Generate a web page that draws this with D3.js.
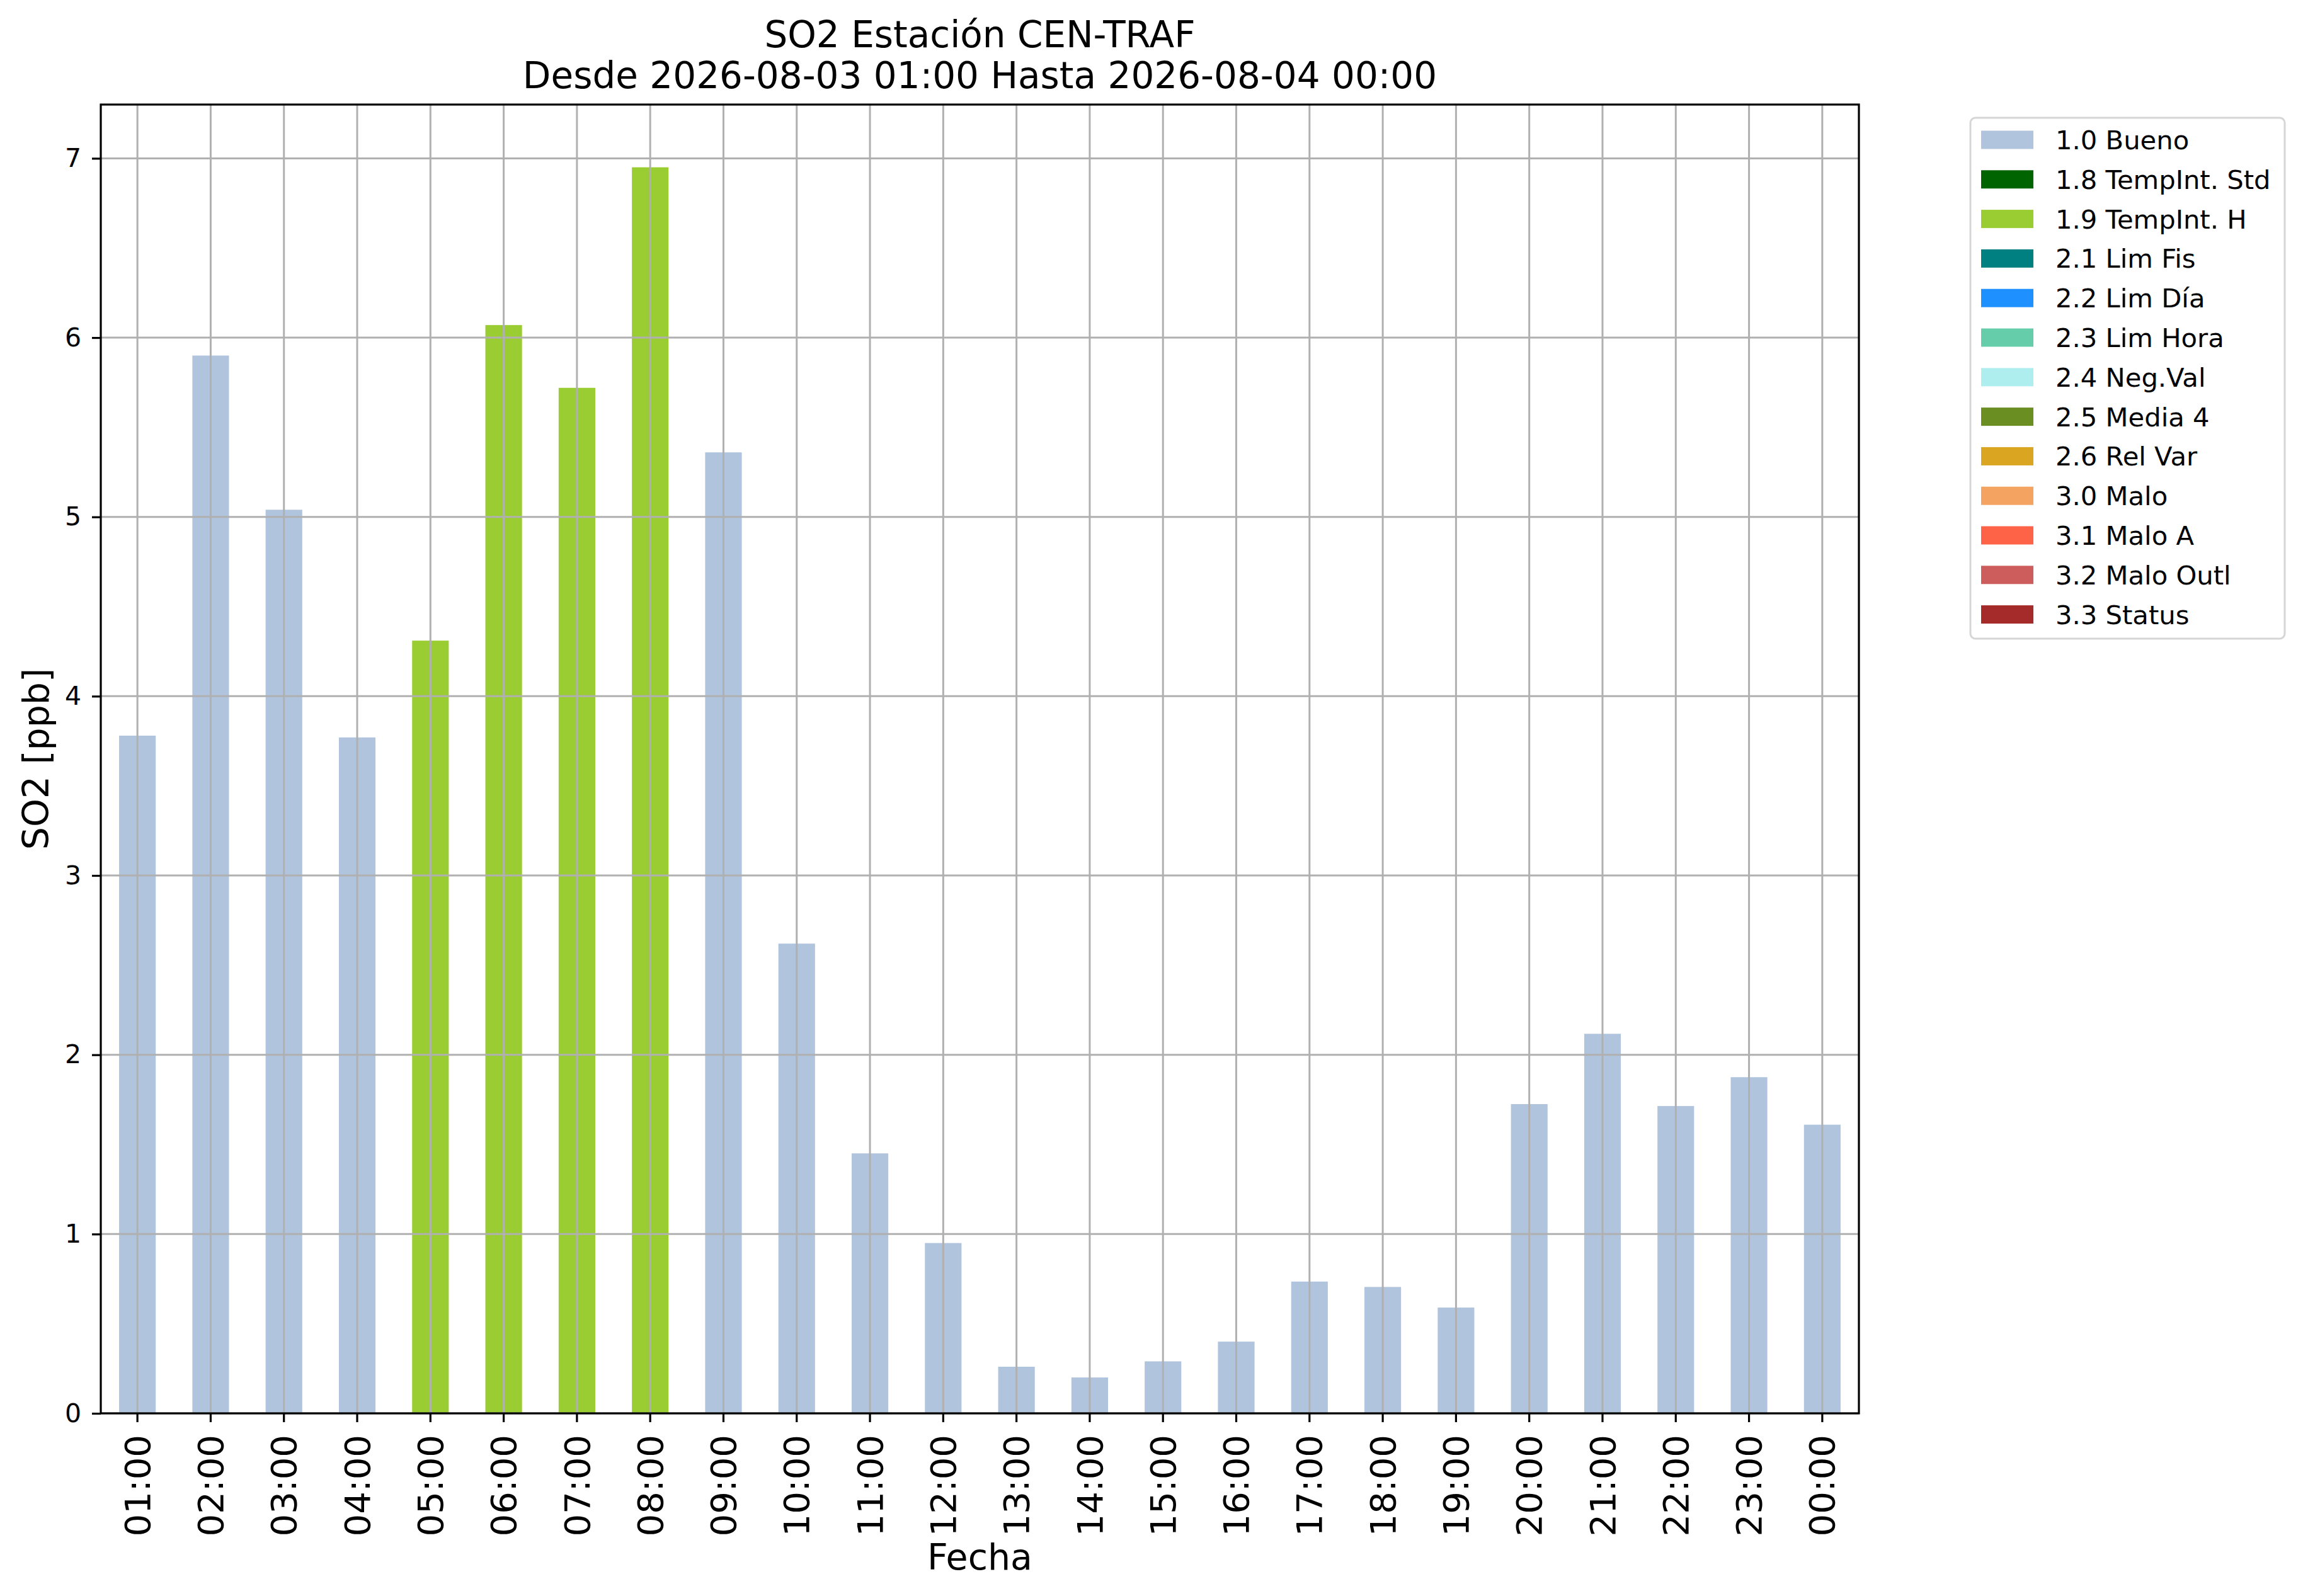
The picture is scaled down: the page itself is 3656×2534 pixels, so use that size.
<!DOCTYPE html>
<html>
<head>
<meta charset="utf-8">
<script src="https://cdn.jsdelivr.net/npm/d3@7"></script>
<style>
  body { margin: 0; background: #fff; }
  text { font-family: "DejaVu Sans", sans-serif; fill: #000; }
</style>
</head>
<body>
<div id="chart"></div>
<script>
// hours and SO2 values
var hours = ['01:00','02:00','03:00','04:00','05:00','06:00','07:00','08:00','09:00','10:00','11:00','12:00',
             '13:00','14:00','15:00','16:00','17:00','18:00','19:00','20:00','21:00','22:00','23:00','00:00'];
var so2 = [3.78, 5.90, 5.04, 3.77, 4.31, 6.07, 5.72, 6.95, 5.36, 2.62, 1.45, 0.95,
           0.26, 0.20, 0.29, 0.40, 0.735, 0.705, 0.59, 1.725, 2.117, 1.714, 1.875, 1.61];
var flags = ['1.0','1.0','1.0','1.0','1.9','1.9','1.9','1.9','1.0','1.0','1.0','1.0',
             '1.0','1.0','1.0','1.0','1.0','1.0','1.0','1.0','1.0','1.0','1.0','1.0'];

// quality flags (legend)
var flagCodes = ['1.0','1.8','1.9','2.1','2.2','2.3','2.4','2.5','2.6','3.0','3.1','3.2','3.3'];
var flagNames = ['Bueno','TempInt. Std','TempInt. H','Lim Fis','Lim Día','Lim Hora','Neg.Val','Media 4','Rel Var','Malo','Malo A','Malo Outl','Status'];
var flagColors = ['#b0c4de','#006400','#9acd32','#008080','#1e90ff','#66cdaa','#afeeee','#6b8e23','#daa520','#f4a460','#ff6347','#cd5c5c','#a52a2a'];

var yTicks = [0, 1, 2, 3, 4, 5, 6, 7];

var W = 3656, H = 2534;
var pL = 160, pR = 2951, pT = 166, pB = 2244;

var svg = d3.select('#chart').append('svg')
  .attr('width', W).attr('height', H);

var x = d3.scaleBand().domain(hours).range([pL, pR])
  .paddingInner(0.5).paddingOuter(0.25);
var y = d3.scaleLinear().domain([0, 7.3]).range([pB, pT]);
var color = d3.scaleOrdinal().domain(flagCodes).range(flagColors);

function cx(h) { return x(h) + x.bandwidth() / 2; }

// bars
svg.append('g').selectAll('rect')
  .data(hours)
  .enter().append('rect')
  .attr('x', function(d) { return x(d); })
  .attr('y', function(d, i) { return y(so2[i]); })
  .attr('width', x.bandwidth())
  .attr('height', function(d, i) { return y(0) - y(so2[i]); })
  .attr('fill', function(d, i) { return color(flags[i]); });

// grid on top of bars
var grid = svg.append('g').attr('stroke', '#b0b0b0').attr('stroke-width', 3);
grid.selectAll('.vg').data(hours).enter().append('line')
  .attr('x1', cx).attr('x2', cx).attr('y1', pT).attr('y2', pB);
grid.selectAll('.hg').data(yTicks).enter().append('line')
  .attr('x1', pL).attr('x2', pR)
  .attr('y1', function(d) { return y(d); }).attr('y2', function(d) { return y(d); });

// axes
var xAxis = svg.append('g')
  .attr('transform', 'translate(0,' + pB + ')')
  .call(d3.axisBottom(x).tickSize(14).tickPadding(14).tickSizeOuter(0));
xAxis.select('.domain').remove();
xAxis.selectAll('line').attr('stroke-width', 3.2);
xAxis.selectAll('text')
  .attr('font-size', 56)
  .attr('font-family', 'DejaVu Sans')
  .attr('transform', 'rotate(-90)')
  .attr('text-anchor', 'end')
  .attr('dy', '0.35em')
  .attr('x', -34)
  .attr('y', 0);

var yAxis = svg.append('g')
  .attr('transform', 'translate(' + pL + ',0)')
  .call(d3.axisLeft(y).tickValues(yTicks).tickFormat(d3.format('d')).tickSize(14).tickPadding(17).tickSizeOuter(0));
yAxis.select('.domain').remove();
yAxis.selectAll('line').attr('stroke-width', 3.2);
yAxis.selectAll('text').attr('font-size', 41).attr('font-family', 'DejaVu Sans');

// frame
svg.append('rect')
  .attr('x', pL).attr('y', pT)
  .attr('width', pR - pL).attr('height', pB - pT)
  .attr('fill', 'none').attr('stroke', '#000').attr('stroke-width', 3.2);

// titles
var midX = (pL + pR) / 2;
svg.append('text').attr('x', midX).attr('y', 75)
  .attr('text-anchor', 'middle').attr('font-size', 58)
  .text('SO2 Estación CEN-TRAF');
svg.append('text').attr('x', midX).attr('y', 140)
  .attr('text-anchor', 'middle').attr('font-size', 58)
  .text('Desde 2026-08-03 01:00 Hasta 2026-08-04 00:00');
svg.append('text').attr('x', midX).attr('y', 2492)
  .attr('text-anchor', 'middle').attr('font-size', 57)
  .text('Fecha');
svg.append('text')
  .attr('transform', 'translate(77,' + ((pT + pB) / 2) + ') rotate(-90)')
  .attr('text-anchor', 'middle').attr('font-size', 57)
  .text('SO2 [ppb]');

// legend
var lg = svg.append('g');
lg.append('rect')
  .attr('x', 3128).attr('y', 187).attr('width', 499).attr('height', 827)
  .attr('rx', 8).attr('fill', '#fff').attr('stroke', '#d6d6d6').attr('stroke-width', 3);
var rows = lg.selectAll('g.item').data(flagCodes).enter().append('g')
  .attr('transform', function(d, i) { return 'translate(3145,' + (222 + i * 62.8) + ')'; });
rows.append('rect')
  .attr('x', 0).attr('y', -14.5).attr('width', 83).attr('height', 29)
  .attr('fill', function(d, i) { return flagColors[i]; });
rows.append('text')
  .attr('x', 118).attr('dy', '0.36em').attr('font-size', 41.7)
  .text(function(d, i) { return d + ' ' + flagNames[i]; });
</script>
</body>
</html>
